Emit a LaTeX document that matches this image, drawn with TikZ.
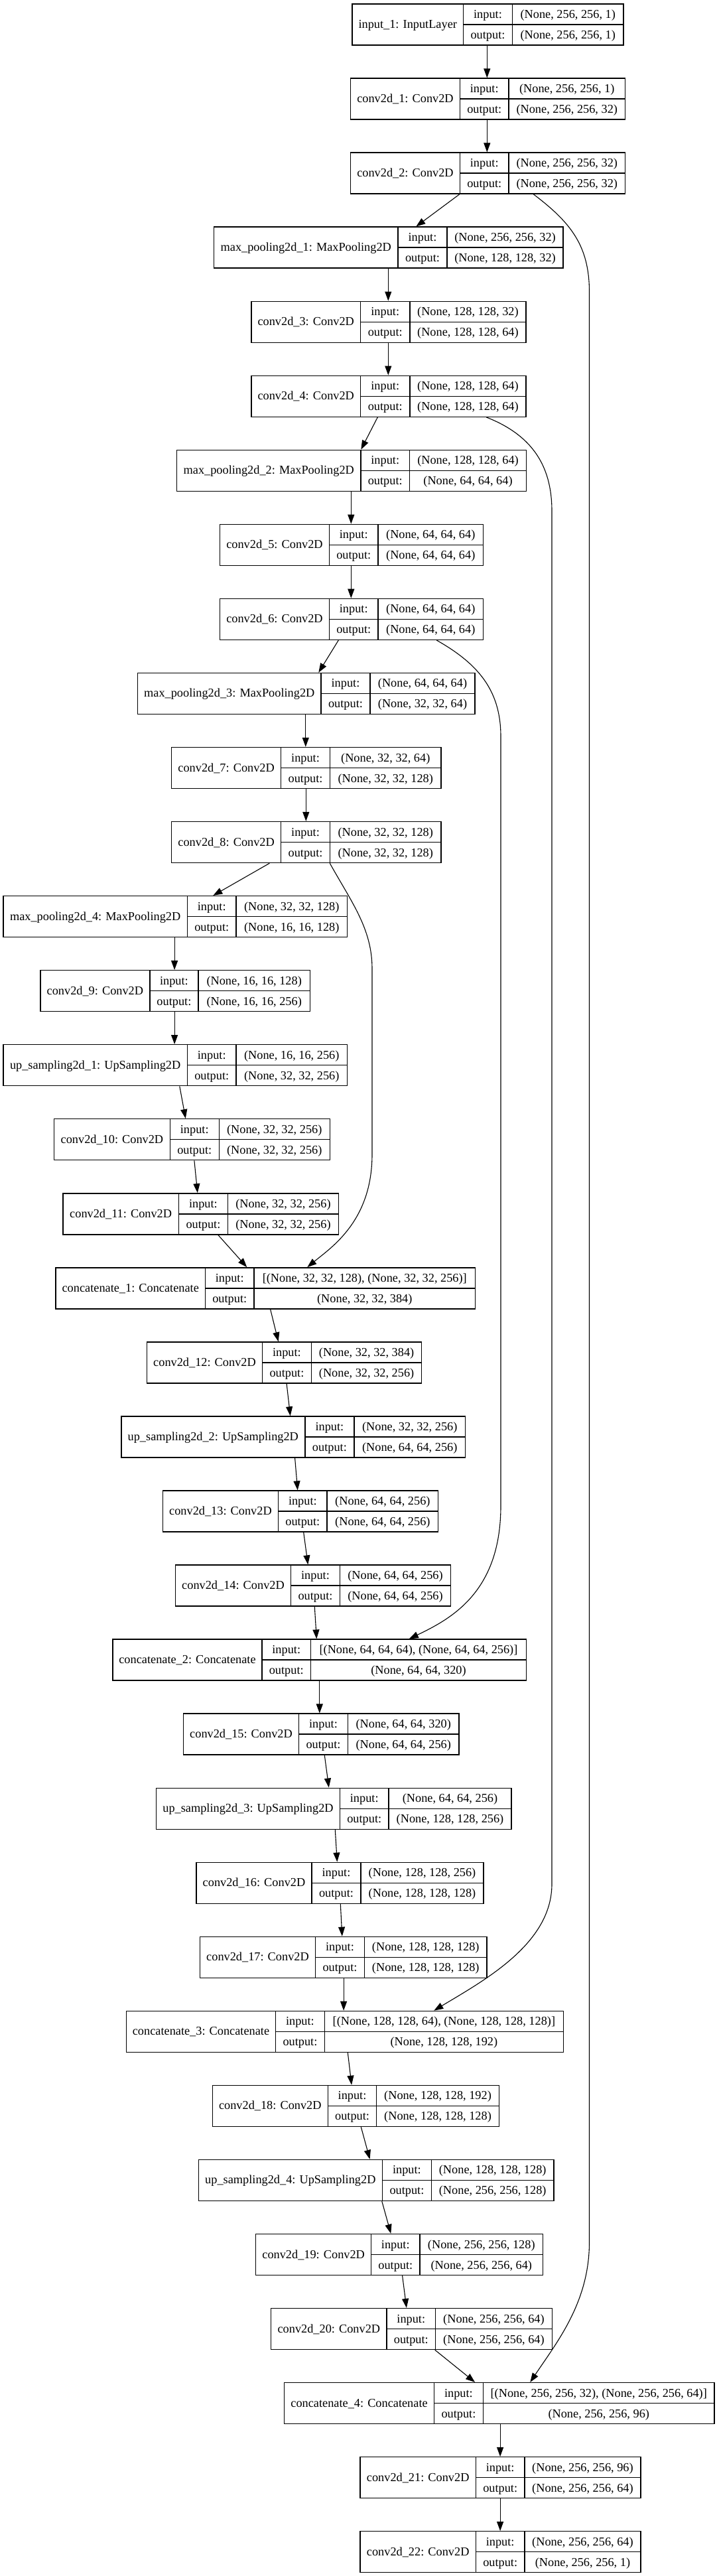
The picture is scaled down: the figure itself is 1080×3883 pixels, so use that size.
\documentclass[tikz,border=0pt]{standalone}
\usepackage{fontspec}
\setmainfont{Liberation Serif}
\usetikzlibrary{arrows.meta,calc}
\tikzset{
  layerbox/.style={draw, line width=1.4pt, inner sep=0pt, minimum height=62pt},
  cellline/.style={line width=1.4pt},
  txt/.style={inner sep=0pt, anchor=base, font=\fontsize{18.3}{22}\selectfont},
  edge/.style={line width=1.1pt, -{Triangle[length=14pt,width=10pt]}},
}
% name, rank, x0, x1, x2, x3, label, input shape, output shape
\newcommand\layer[9]{%
  \pgfmathsetmacro\Ty{6+112.05*#2}%
  \pgfmathsetmacro\By{\Ty+62}%
  \pgfmathsetmacro\My{\Ty+31}%
  \pgfmathsetmacro\Cx{(#3+#6)/2}%
  \pgfmathsetmacro\W{#6-#3}%
  \expandafter\xdef\csname xz#1\endcsname{#3}%
  \node[layerbox, minimum width=\W pt] (#1) at (\Cx,\My) {};
  \draw[cellline] (#4,\Ty) -- (#4,\By) (#5,\Ty) -- (#5,\By) (#4,\My) -- (#6,\My);
  \pgfmathsetmacro\La{(#3+#4)/2}%
  \pgfmathsetmacro\Lb{(#4+#5)/2}%
  \pgfmathsetmacro\Lc{(#5+#6)/2}%
  \pgfmathsetmacro\Ya{\My+5.5}%
  \pgfmathsetmacro\Yb{\Ty+21.5}%
  \pgfmathsetmacro\Yc{\My+21.5}%
  \node[txt] (#1-l) at (\La,\Ya) {#7};
  \node[txt] (#1-ik) at (\Lb,\Yb) {input:};
  \node[txt] (#1-iv) at (\Lc,\Yb) {#8};
  \node[txt] (#1-ok) at (\Lb,\Yc) {output:};
  \node[txt] (#1-ov) at (\Lc,\Yc) {#9};
}
% source, x at source, target, x at target
\newcommand\conn[4]{%
  \pgfmathsetmacro\Sa{#2-\csname xz#1\endcsname}%
  \pgfmathsetmacro\Sb{#4-\csname xz#3\endcsname}%
  \draw[edge] ([xshift=\Sa pt]#1.south west) -- ([xshift=\Sb pt]#3.north west);}
\begin{document}
\begin{tikzpicture}[x=1pt,y=-1pt]
\useasboundingbox (0,0) rectangle (1080,3883);
\fill[white] (0,0) rectangle (1080,3883);

\layer{in1}{0}{531}{698.5}{772.5}{940}{input\_1: InputLayer}{(None, 256, 256, 1)}{(None, 256, 256, 1)}
\layer{c1}{1}{528.5}{693.5}{767}{942.5}{conv2d\_1: Conv2D}{(None, 256, 256, 1)}{(None, 256, 256, 32)}
\layer{c2}{2}{528.5}{693.5}{767}{942.5}{conv2d\_2: Conv2D}{(None, 256, 256, 32)}{(None, 256, 256, 32)}
\layer{mp1}{3}{322.5}{600}{674}{849}{max\_pooling2d\_1: MaxPooling2D}{(None, 256, 256, 32)}{(None, 128, 128, 32)}
\layer{c3}{4}{379}{543.5}{618}{792.8}{conv2d\_3: Conv2D}{(None, 128, 128, 32)}{(None, 128, 128, 64)}
\layer{c4}{5}{379}{543.5}{618}{792.8}{conv2d\_4: Conv2D}{(None, 128, 128, 64)}{(None, 128, 128, 64)}
\layer{mp2}{6}{266.5}{544}{617.5}{793.5}{max\_pooling2d\_2: MaxPooling2D}{(None, 128, 128, 64)}{(None, 64, 64, 64)}
\layer{c5}{7}{331.5}{496.5}{570}{728.5}{conv2d\_5: Conv2D}{(None, 64, 64, 64)}{(None, 64, 64, 64)}
\layer{c6}{8}{331.5}{496.5}{570}{728.5}{conv2d\_6: Conv2D}{(None, 64, 64, 64)}{(None, 64, 64, 64)}
\layer{mp3}{9}{207.5}{484}{558}{716}{max\_pooling2d\_3: MaxPooling2D}{(None, 64, 64, 64)}{(None, 32, 32, 64)}
\layer{c7}{10}{258.7}{423.6}{497.5}{665}{conv2d\_7: Conv2D}{(None, 32, 32, 64)}{(None, 32, 32, 128)}
\layer{c8}{11}{258.7}{423.6}{497.5}{665}{conv2d\_8: Conv2D}{(None, 32, 32, 128)}{(None, 32, 32, 128)}
\layer{mp4}{12}{4.8}{282.5}{356}{523.5}{max\_pooling2d\_4: MaxPooling2D}{(None, 32, 32, 128)}{(None, 16, 16, 128)}
\layer{c9}{13}{61}{225.8}{299}{467.4}{conv2d\_9: Conv2D}{(None, 16, 16, 128)}{(None, 16, 16, 256)}
\layer{up1}{14}{4.8}{282.5}{356}{523.5}{up\_sampling2d\_1: UpSampling2D}{(None, 16, 16, 256)}{(None, 32, 32, 256)}
\layer{c10}{15}{81.7}{256.2}{330.3}{497.2}{conv2d\_10: Conv2D}{(None, 32, 32, 256)}{(None, 32, 32, 256)}
\layer{c11}{16}{94.9}{269.4}{343.5}{510.4}{conv2d\_11: Conv2D}{(None, 32, 32, 256)}{(None, 32, 32, 256)}
\layer{cat1}{17}{84}{309.5}{383}{716.6}{concatenate\_1: Concatenate}{[(None, 32, 32, 128), (None, 32, 32, 256)]}{(None, 32, 32, 384)}
\layer{c12}{18}{221.6}{395.4}{469.5}{635.7}{conv2d\_12: Conv2D}{(None, 32, 32, 384)}{(None, 32, 32, 256)}
\layer{up2}{19}{182.8}{459.8}{534}{701.5}{up\_sampling2d\_2: UpSampling2D}{(None, 32, 32, 256)}{(None, 64, 64, 256)}
\layer{c13}{20}{245.2}{419.7}{493}{660.7}{conv2d\_13: Conv2D}{(None, 64, 64, 256)}{(None, 64, 64, 256)}
\layer{c14}{21}{264.5}{438.5}{512.5}{679.5}{conv2d\_14: Conv2D}{(None, 64, 64, 256)}{(None, 64, 64, 256)}
\layer{cat2}{22}{170}{395}{468.5}{793.5}{concatenate\_2: Concatenate}{[(None, 64, 64, 64), (None, 64, 64, 256)]}{(None, 64, 64, 320)}
\layer{c15}{23}{276.5}{450.5}{524.5}{692}{conv2d\_15: Conv2D}{(None, 64, 64, 320)}{(None, 64, 64, 256)}
\layer{up3}{24}{235.5}{512.5}{586}{771}{up\_sampling2d\_3: UpSampling2D}{(None, 64, 64, 256)}{(None, 128, 128, 256)}
\layer{c16}{25}{296}{470}{544}{729}{conv2d\_16: Conv2D}{(None, 128, 128, 256)}{(None, 128, 128, 128)}
\layer{c17}{26}{301.5}{475.5}{549.5}{734}{conv2d\_17: Conv2D}{(None, 128, 128, 128)}{(None, 128, 128, 128)}
\layer{cat3}{27}{190.5}{415.5}{489.4}{849.4}{concatenate\_3: Concatenate}{[(None, 128, 128, 64), (None, 128, 128, 128)]}{(None, 128, 128, 192)}
\layer{c18}{28}{320.2}{494.4}{567.7}{752.4}{conv2d\_18: Conv2D}{(None, 128, 128, 192)}{(None, 128, 128, 128)}
\layer{up4}{29}{299.2}{576.5}{650.4}{835}{up\_sampling2d\_4: UpSampling2D}{(None, 128, 128, 128)}{(None, 256, 256, 128)}
\layer{c19}{30}{385.7}{559.6}{633}{818.6}{conv2d\_19: Conv2D}{(None, 256, 256, 128)}{(None, 256, 256, 64)}
\layer{c20}{31}{408.6}{583.1}{656.5}{832.4}{conv2d\_20: Conv2D}{(None, 256, 256, 64)}{(None, 256, 256, 64)}
\layer{cat4}{32}{428.7}{654.4}{728.5}{1077}{concatenate\_4: Concatenate}{[(None, 256, 256, 32), (None, 256, 256, 64)]}{(None, 256, 256, 96)}
\layer{c21}{33}{542.9}{717.5}{790.9}{966}{conv2d\_21: Conv2D}{(None, 256, 256, 96)}{(None, 256, 256, 64)}
\layer{c22}{34}{542.9}{717.5}{790.9}{966}{conv2d\_22: Conv2D}{(None, 256, 256, 64)}{(None, 256, 256, 1)}

\conn{in1}{735}{c1}{735}
\conn{c1}{735}{c2}{735}
\conn{c2}{693.5}{mp1}{628}
\conn{mp1}{586}{c3}{586}
\conn{c3}{586}{c4}{586}
\conn{c4}{570}{mp2}{545}
\conn{mp2}{530}{c5}{530}
\conn{c5}{530}{c6}{530}
\conn{c6}{511}{mp3}{481}
\conn{mp3}{461.5}{c7}{461.5}
\conn{c7}{462}{c8}{462}
\conn{c8}{407}{mp4}{322}
\conn{mp4}{263.8}{c9}{263.8}
\conn{c9}{263.8}{up1}{263.8}
\conn{up1}{271.5}{c10}{280.5}
\conn{c10}{293.6}{c11}{298.5}
\conn{c11}{329.5}{cat1}{373}
\conn{cat1}{408.3}{c12}{420.4}
\conn{c12}{432.8}{up2}{438.4}
\conn{up2}{445.3}{c13}{449.4}
\conn{c13}{458.4}{c14}{465}
\conn{c14}{475}{cat2}{478}
\conn{cat2}{482.5}{c15}{482.5}
\conn{c15}{490}{up3}{496.5}
\conn{up3}{506}{c16}{509}
\conn{c16}{514}{c17}{516.5}
\conn{c17}{518.8}{cat3}{518.8}
\conn{cat3}{525}{c18}{530.8}
\conn{c18}{545}{up4}{558.3}
\conn{up4}{576.5}{c19}{590}
\conn{c19}{607.3}{c20}{613.6}
\conn{c20}{656.5}{cat4}{716.8}
\conn{cat4}{754.8}{c21}{754.8}
\conn{c21}{754.8}{c22}{754.8}

% skip connections
\draw[edge] ([xshift=276.5pt]c2.south west) .. controls (860,335) and (888.5,370) .. (888.5,440)
  -- (888.5,3380) .. controls (888.5,3470) and (840,3530) .. ([xshift=371.3pt]cat4.north west);
\draw[edge] ([xshift=355pt]c4.south west) .. controls (800,655) and (832,700) .. (832,770)
  -- (832,2840) .. controls (832,2930) and (730,2985) .. ([xshift=464.5pt]cat3.north west);
\draw[edge] ([xshift=327.5pt]c6.south west) .. controls (720,1000) and (755,1040) .. (755,1110)
  -- (755,2270) .. controls (755,2400) and (680,2440) .. ([xshift=447.5pt]cat2.north west);
\draw[edge] ([xshift=239.3pt]c8.south west) .. controls (530,1360) and (561,1400) .. (561,1460)
  -- (561,1740) .. controls (561,1840) and (500,1880) .. ([xshift=380pt]cat1.north west);
\end{tikzpicture}
\end{document}
